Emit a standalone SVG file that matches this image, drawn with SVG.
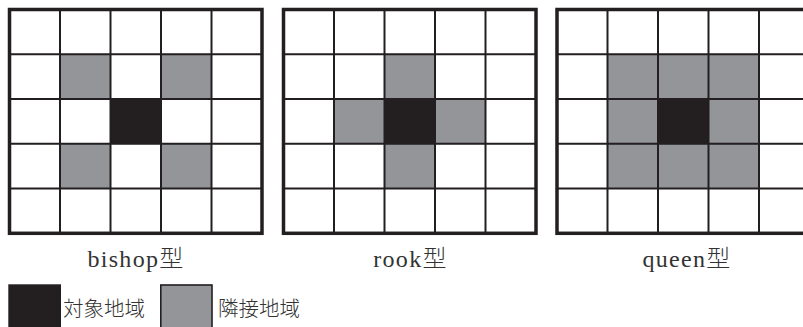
<svg xmlns="http://www.w3.org/2000/svg" xmlns:xlink="http://www.w3.org/1999/xlink" width="803" height="327" viewBox="0 0 803 327">
<style>
.bg{fill:#ffffff}
.tgt{fill:#231f20}
.adj{fill:#939598}
.inner{stroke:#231f20;stroke-width:2;fill:none}
.outer{stroke:#231f20;stroke-width:3.5;fill:none}
.lbl{font-family:"Liberation Serif","Noto Sans CJK JP",serif;font-size:24px;fill:#333333;text-anchor:middle;letter-spacing:1.3px}
.cjk{font-family:"Noto Sans CJK JP",sans-serif;font-weight:300}
.leg{font-family:"Noto Sans CJK JP","Liberation Sans",sans-serif;font-size:20.5px;font-weight:300;fill:#333333}
</style>
<defs>
<g id="gridlines">
<path class="inner" d="M50.5 0V223.8M101 0V223.8M151.5 0V223.8M202 0V223.8M0 44.76H252.5M0 89.52H252.5M0 134.28H252.5M0 179.04H252.5"/>
<rect class="outer" x="0" y="0" width="252.5" height="223.8"/>
</g>
</defs>
<rect class="bg" x="0" y="0" width="803" height="327"/>
<g id="bishop" transform="translate(9.5,9.5)">
<rect class="adj" x="50.5" y="44.76" width="50.5" height="44.76"/>
<rect class="adj" x="151.5" y="44.76" width="50.5" height="44.76"/>
<rect class="adj" x="50.5" y="134.28" width="50.5" height="44.76"/>
<rect class="adj" x="151.5" y="134.28" width="50.5" height="44.76"/>
<rect class="tgt" x="101" y="89.52" width="50.5" height="44.76"/>
<use xlink:href="#gridlines"/>
</g>
<g id="rook" transform="translate(283.5,9.5)">
<rect class="adj" x="101" y="44.76" width="50.5" height="44.76"/>
<rect class="adj" x="50.5" y="89.52" width="50.5" height="44.76"/>
<rect class="adj" x="151.5" y="89.52" width="50.5" height="44.76"/>
<rect class="adj" x="101" y="134.28" width="50.5" height="44.76"/>
<rect class="tgt" x="101" y="89.52" width="50.5" height="44.76"/>
<use xlink:href="#gridlines"/>
</g>
<g id="queen" transform="translate(557,9.5)">
<rect class="adj" x="50.5" y="44.76" width="151.5" height="134.28"/>
<rect class="tgt" x="101" y="89.52" width="50.5" height="44.76"/>
<use xlink:href="#gridlines"/>
</g>
<g id="labels">
<text class="lbl" x="136" y="267">bishop<tspan class="cjk">型</tspan></text>
<text class="lbl" x="410.5" y="267">rook<tspan class="cjk">型</tspan></text>
<text class="lbl" x="687" y="267">queen<tspan class="cjk">型</tspan></text>
</g>
<g id="legend-target">
<rect class="tgt" x="8.3" y="284.3" width="52.7" height="50"/>
<text class="leg" x="63" y="315.5">対象地域</text>
</g>
<g id="legend-adjacent">
<rect class="adj" x="160.8" y="285" width="51.2" height="50" stroke="#231f20" stroke-width="1.6"/>
<text class="leg" x="218" y="315.5">隣接地域</text>
</g>
</svg>
